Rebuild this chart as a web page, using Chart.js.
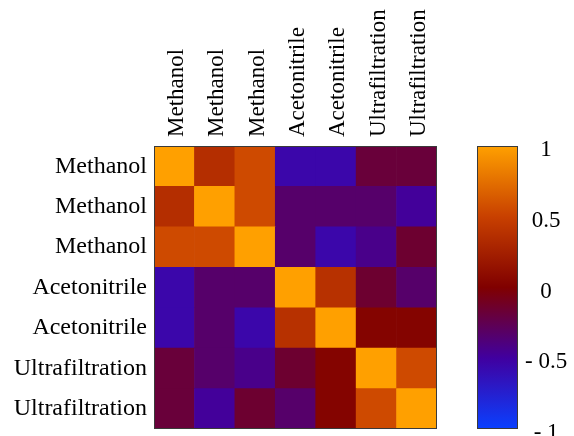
<!DOCTYPE html>
<html><head><meta charset="utf-8">
<script src="https://cdn.jsdelivr.net/npm/chart.js@4/dist/chart.umd.min.js"></script>
<style>
html,body{margin:0;padding:0;background:#fff;overflow:hidden}
#wrap{position:relative;width:574px;height:436px;background:#fff}
canvas{position:absolute;top:0}
#heat{left:0}
#cbar{left:460px}
</style></head><body>
<div id="wrap"><canvas id="heat" width="460" height="436"></canvas><canvas id="cbar" width="114" height="436"></canvas></div>
<script>
// ---- data ----
const columnLabels = ['Methanol','Methanol','Methanol','Acetonitrile','Acetonitrile','Ultrafiltration','Ultrafiltration'];
const rowLabels = ['Methanol','Methanol','Methanol','Acetonitrile','Acetonitrile','Ultrafiltration','Ultrafiltration'];
const row1 = [1.00, 0.36, 0.55, -0.55, -0.55, -0.18, -0.18];
const row2 = [0.36, 1.00, 0.55, -0.33, -0.33, -0.33, -0.48];
const row3 = [0.55, 0.55, 1.00, -0.33, -0.55, -0.43, -0.15];
const row4 = [-0.55, -0.33, -0.33, 1.00, 0.38, -0.15, -0.33];
const row5 = [-0.55, -0.33, -0.55, 0.38, 1.00, 0.03, 0.03];
const row6 = [-0.18, -0.33, -0.43, -0.15, 0.03, 1.00, 0.55];
const row7 = [-0.18, -0.48, -0.15, -0.33, 0.03, 0.55, 1.00];
const matrix = [row1, row2, row3, row4, row5, row6, row7];
const colorbarRange = [-1, 1];
const colorbarTicks = [-1, -0.5, 0, 0.5, 1];
const stopValues = [-1, -0.5, 0, 0.5, 1];
const stopColors = ['#0a40ff', '#4000a0', '#800000', '#c84000', '#ffa000'];

// ---- colour map ----
function hexToRgb(h){ return [parseInt(h.substr(1,2),16), parseInt(h.substr(3,2),16), parseInt(h.substr(5,2),16)]; }
function colorFor(v){
  v = Math.max(stopValues[0], Math.min(stopValues[stopValues.length-1], v));
  for (let i = 0; i < stopValues.length - 1; i++){
    if (v <= stopValues[i+1]){
      const t = (v - stopValues[i]) / (stopValues[i+1] - stopValues[i]);
      const a = hexToRgb(stopColors[i]), b = hexToRgb(stopColors[i+1]);
      const c = a.map((x,k)=>Math.round(x + (b[k]-x)*t));
      return 'rgb(' + c.join(',') + ')';
    }
  }
  return stopColors[stopColors.length-1];
}

const framePlugin = {
  id: 'frame',
  afterDatasetsDraw(chart){
    const a = chart.chartArea, ctx = chart.ctx;
    ctx.save();
    ctx.strokeStyle = '#3a3a3a';
    ctx.lineWidth = 1;
    ctx.strokeRect(Math.round(a.left)+0.5, Math.round(a.top)+0.5, Math.round(a.right-a.left)-1, Math.round(a.bottom-a.top)-1);
    ctx.restore();
  }
};

function noPad(s){ s.paddingTop = 0; s.paddingBottom = 0; s.paddingLeft = 0; s.paddingRight = 0; }

const serifTop = {family: "'Liberation Serif', 'Times New Roman', serif", size: 23};
const serifLeft = {family: "'Liberation Serif', 'Times New Roman', serif", size: 24};

// stacked bars: dataset k spans y in [k, k+1], bottom row first
const nRows = matrix.length;
const datasets = [];
for (let k = 0; k < nRows; k++){
  const row = matrix[nRows - 1 - k];
  datasets.push({
    label: rowLabels[nRows - 1 - k],
    data: row.map(() => 1),
    backgroundColor: row.map(colorFor),
    borderWidth: 0,
    barPercentage: 1,
    categoryPercentage: 1,
    xAxisID: 'x',
    yAxisID: 'y'
  });
}

new Chart(document.getElementById('heat'), {
  type: 'bar',
  data: { labels: columnLabels, datasets },
  options: {
    responsive: false,
    animation: false,
    layout: { padding: { left: 0, top: 0, right: 23, bottom: 7 } },
    plugins: { legend: { display: false }, tooltip: { enabled: false } },
    scales: {
      x: {
        type: 'category', position: 'top', stacked: true,
        grid: { display: false, drawTicks: false }, border: { display: false },
        ticks: { font: serifTop, color: '#000', minRotation: 90, maxRotation: 90, padding: 9, autoSkip: false, labelOffset: 30 },
        afterFit(s){ s.height = 146; noPad(s); }
      },
      y: { type: 'linear', stacked: true, min: 0, max: nRows, display: false },
      yl: {
        type: 'category', position: 'left', labels: rowLabels, offset: true,
        grid: { display: false, drawTicks: false }, border: { display: false },
        ticks: { font: serifLeft, color: '#000', padding: 7, autoSkip: false },
        afterFit(s){ s.width = 154; noPad(s); }
      }
    }
  },
  plugins: [framePlugin]
});

new Chart(document.getElementById('cbar'), {
  type: 'bar',
  data: {
    labels: ['scale'],
    datasets: [{
      data: [colorbarRange],
      borderWidth: 0,
      barPercentage: 1,
      categoryPercentage: 1,
      backgroundColor(ctx){
        const a = ctx.chart.chartArea;
        if (!a) return stopColors[2];
        const g = ctx.chart.ctx.createLinearGradient(0, a.bottom, 0, a.top);
        stopValues.forEach((v,i)=> g.addColorStop((v - colorbarRange[0])/(colorbarRange[1]-colorbarRange[0]), stopColors[i]));
        return g;
      }
    }]
  },
  options: {
    responsive: false,
    animation: false,
    layout: { padding: { left: 17, top: 146, right: 0, bottom: 7 } },
    plugins: { legend: { display: false }, tooltip: { enabled: false } },
    scales: {
      x: { display: false },
      y: {
        position: 'right', min: colorbarRange[0], max: colorbarRange[1],
        afterBuildTicks(s){ s.ticks = colorbarTicks.map(v => ({ value: v })); },
        grid: { display: false, drawTicks: false }, border: { display: false },
        ticks: {
          font: serifTop, color: '#000', padding: 7, crossAlign: 'center', labelOffset: 4,
          callback(v){ return v < 0 ? '- ' + Math.abs(v) : String(v); }
        },
        afterFit(s){ s.width = 56; noPad(s); }
      }
    }
  },
  plugins: [framePlugin]
});
</script>
</body></html>
